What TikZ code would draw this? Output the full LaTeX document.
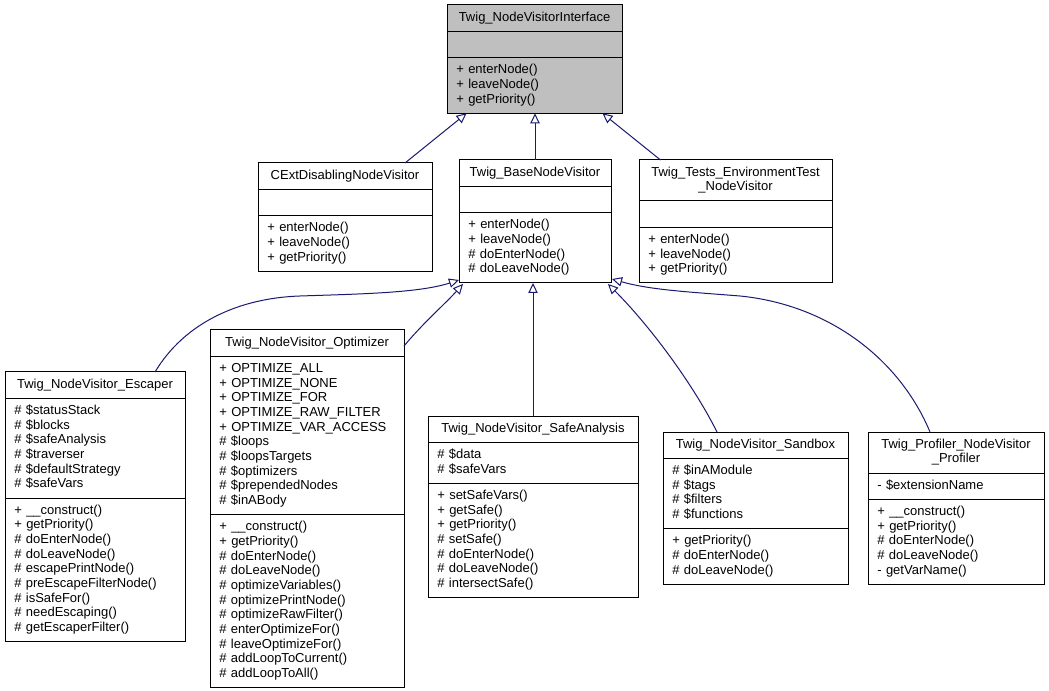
\documentclass[tikz,border=0pt]{standalone}
\usepackage{fontspec}
\setmainfont{Liberation Sans}
\definecolor{dxedge}{HTML}{191970}
\definecolor{dxgrey}{HTML}{BFBFBF}
\usetikzlibrary{shapes.multipart,arrows.meta,calc}
\newcommand{\clstitle}[1]{\hfill\strut#1\hfill\null}

\begin{document}
\begin{tikzpicture}[
  x=0.75pt, y=-0.75pt,
  cls/.style={rectangle split, rectangle split parts=3, draw=black, fill=white,
    line width=0.75pt, anchor=north west, inner xsep=7pt, inner ysep=4pt,
    outer sep=0pt, text width=#1, align=left,
    font=\fontsize{9.75}{11}\selectfont},
  inh/.style={dxedge, line width=0.75pt,
    -{Triangle[open,length=7.5pt,width=7pt]}}
]
  \useasboundingbox (0,0) rectangle (1049,691);

  % Interface
  \node[cls=117.25pt, fill=dxgrey] (iface) at (447,5)
    {\clstitle{Twig\_NodeVisitorInterface}
     \nodepart{two}\strut
     \nodepart{three}\strut + enterNode()\\+ leaveNode()\\+ getPriority()\strut};

  % First level
  \node[cls=116.5pt] (ext) at (258,163)
    {\clstitle{CExtDisablingNodeVisitor}
     \nodepart{two}\strut
     \nodepart{three}\strut + enterNode()\\+ leaveNode()\\+ getPriority()\strut};
  \node[cls=100pt] (base) at (459,160)
    {\clstitle{Twig\_BaseNodeVisitor}
     \nodepart{two}\strut
     \nodepart{three}\strut + enterNode()\\+ leaveNode()\\\# doEnterNode()\\\# doLeaveNode()\strut};
  \node[cls=130.75pt] (tests) at (639,160)
    {\clstitle{Twig\_Tests\_EnvironmentTest}\\\clstitle{\_NodeVisitor}
     \nodepart{two}\strut
     \nodepart{three}\strut + enterNode()\\+ leaveNode()\\+ getPriority()\strut};

  % Second level
  \node[cls=121pt] (esc) at (5,372)
    {\clstitle{Twig\_NodeVisitor\_Escaper}
     \nodepart{two}\strut \# \$statusStack\\\# \$blocks\\\# \$safeAnalysis\\\# \$traverser\\\# \$defaultStrategy\\\# \$safeVars\strut
     \nodepart{three}\strut + \_\_construct()\\+ getPriority()\\\# doEnterNode()\\\# doLeaveNode()\\\# escapePrintNode()\\\# preEscapeFilterNode()\\\# isSafeFor()\\\# needEscaping()\\\# getEscaperFilter()\strut};
  \node[cls=131.5pt] (opt) at (210,330)
    {\clstitle{Twig\_NodeVisitor\_Optimizer}
     \nodepart{two}\strut + OPTIMIZE\_ALL\\+ OPTIMIZE\_NONE\\+ OPTIMIZE\_FOR\\+ OPTIMIZE\_RAW\_FILTER\\+ OPTIMIZE\_VAR\_ACCESS\\\# \$loops\\\# \$loopsTargets\\\# \$optimizers\\\# \$prependedNodes\\\# \$inABody\strut
     \nodepart{three}\strut + \_\_construct()\\+ getPriority()\\\# doEnterNode()\\\# doLeaveNode()\\\# optimizeVariables()\\\# optimizePrintNode()\\\# optimizeRawFilter()\\\# enterOptimizeFor()\\\# leaveOptimizeFor()\\\# addLoopToCurrent()\\\# addLoopToAll()\strut};
  \node[cls=143.5pt] (safe) at (428,416)
    {\clstitle{Twig\_NodeVisitor\_SafeAnalysis}
     \nodepart{two}\strut \# \$data\\\# \$safeVars\strut
     \nodepart{three}\strut + setSafeVars()\\+ getSafe()\\+ getPriority()\\\# setSafe()\\\# doEnterNode()\\\# doLeaveNode()\\\# intersectSafe()\strut};
  \node[cls=124.75pt] (sand) at (663,432)
    {\clstitle{Twig\_NodeVisitor\_Sandbox}
     \nodepart{two}\strut \# \$inAModule\\\# \$tags\\\# \$filters\\\# \$functions\strut
     \nodepart{three}\strut + getPriority()\\\# doEnterNode()\\\# doLeaveNode()\strut};
  \node[cls=118pt] (prof) at (868,432)
    {\clstitle{Twig\_Profiler\_NodeVisitor}\\\clstitle{\_Profiler}
     \nodepart{two}\strut - \$extensionName\strut
     \nodepart{three}\strut + \_\_construct()\\+ getPriority()\\\# doEnterNode()\\\# doLeaveNode()\\- getVarName()\strut};

  % Inheritance to the interface
  \draw[inh] ($(ext.north)+(60,0)$) -- ($(iface.south)+(-68,0)$);
  \draw[inh] (base.north) -- (base.north |- iface.south);
  \draw[inh] ($(tests.north)+(-75,0)$) -- ($(iface.south)+(68,0)$);

  % Inheritance to the base visitor
  \draw[inh] ($(esc.north)+(60,0)$) .. controls +(30,-50) and +(-60,2) .. (300,296)
    .. controls +(60,-2) and +(-40,13) .. ($(base.south west)+(0,-3)$);
  \draw[inh] ($(opt.north east)+(0,16)$) .. controls +(20,-24) and +(-18,20) .. ($(base.south west)+(4,1)$);
  \draw[inh] (safe.north) -- (safe.north |- base.south);
  \draw[inh] ($(sand.north)+(-38.5,0)$) .. controls +(-25,-50) and +(40,40) .. ($(base.south east)+(-3,1)$);
  \draw[inh] ($(prof.north)+(-26,0)$) .. controls +(-30,-72) and +(90,9) .. (740,296)
    .. controls +(-50,-4) and +(38,11) .. ($(base.south east)+(1,-4)$);
\end{tikzpicture}
\end{document}
